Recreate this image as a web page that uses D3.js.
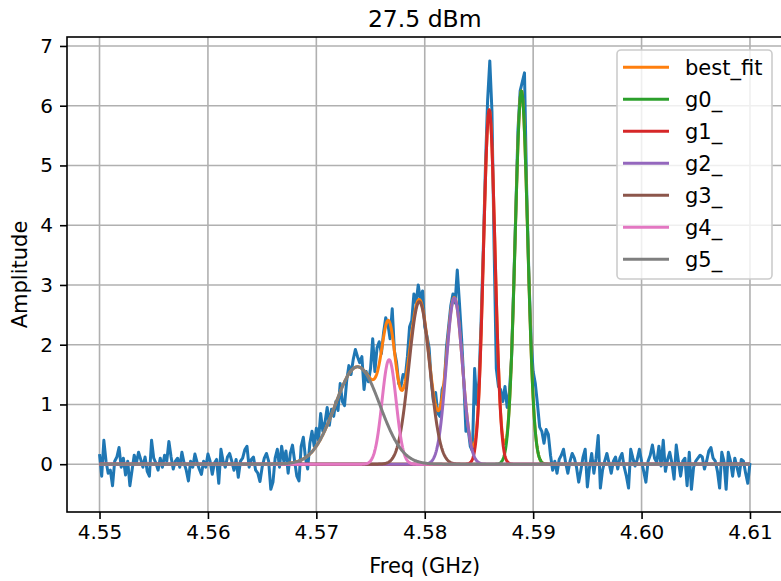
<!DOCTYPE html>
<html>
<head>
<meta charset="utf-8">
<script src="https://cdn.jsdelivr.net/npm/d3@7"></script>
<style>
  body { margin: 0; background: #fff; }
  svg { display: block; }
  text { font-family: "DejaVu Sans", sans-serif; fill: #000; }
</style>
</head>
<body>
<svg id="chart" width="781" height="581"></svg>
<script>
// ---- data ----
const title = "27.5 dBm";
const xLabel = "Freq (GHz)";
const yLabel = "Amplitude";
const xTicks = [4.55, 4.56, 4.57, 4.58, 4.59, 4.60, 4.61];
const yTicks = [0, 1, 2, 3, 4, 5, 6, 7];

// measured spectrum, sampled every 0.0002 GHz from 4.55 GHz
const freqStart = 4.55;
const freqStep = 0.0002;
const amplitude = [
  0.17, -0.20, 0.40, 0.05, -0.15, -0.10, -0.36, 0.05, 0.12, 0.28,
  -0.05, 0.10, -0.18, 0.05, -0.36, -0.10, 0.15, 0.02, 0.20, 0.08,
  -0.05, 0.12, -0.12, -0.20, 0.40, 0.10, 0.02, -0.10, 0.10, -0.05,
  0.15, 0.05, 0.38, 0.12, -0.08, 0.05, 0.10, -0.05, 0.20, 0.02,
  -0.10, -0.28, 0.05, -0.05, 0.17, 0.03, -0.08, -0.17, 0.05, -0.05,
  0.17, 0.05, -0.17, 0.02, 0.08, -0.32, 0.25, 0.05, -0.05, 0.12,
  0.18, 0.05, -0.10, 0.08, -0.22, 0.05, 0.10, 0.24, 0.30, -0.05,
  0.08, 0.12, -0.10, -0.15, -0.29, -0.05, 0.10, 0.18, 0.05, -0.42,
  -0.30, 0.10, 0.25, -0.05, 0.30, 0.05, 0.22, -0.15, 0.18, 0.32,
  0.05, -0.20, -0.28, 0.30, 0.45, 0.10, -0.08, 0.35, 0.55, 0.30,
  0.60, 0.40, 0.85, 0.55, 0.70, 0.95, 0.65, 0.92, 0.80, 1.05,
  0.90, 1.35, 1.05, 0.98, 1.40, 1.65, 1.50, 1.75, 1.92, 1.80,
  1.70, 1.80, 1.25, 1.55, 1.38, 1.60, 2.10, 1.55, 1.95, 2.05,
  1.85, 2.20, 2.45, 2.35, 2.10, 2.60, 1.90, 1.70, 1.35, 1.30,
  1.50, 1.45, 1.80, 2.30, 2.40, 2.85, 2.70, 3.00, 2.75, 2.90,
  2.30, 2.15, 1.95, 1.40, 1.05, 1.20, 0.85, 0.80, 1.25, 1.35,
  1.95, 2.30, 2.65, 2.85, 2.70, 3.25, 2.70, 2.10, 1.40, 0.55,
  0.60, 0.30, 0.22, 1.60, 1.00, 1.40, 2.40, 3.60, 5.00, 6.10,
  6.75, 5.90, 3.60, 1.60, 1.30, 1.25, 1.05, 1.30, 0.95, 1.20,
  1.75, 2.95, 4.25, 5.60, 6.25, 6.40, 6.55, 4.60, 3.20, 2.10,
  1.55, 1.35, 1.00, 0.62, 0.55, 0.35, 0.58, 0.50, 0.15, -0.10,
  0.05, -0.15, 0.08, 0.15, 0.25, 0.02, -0.15, 0.05, 0.18, 0.10,
  -0.05, -0.30, -0.10, 0.12, 0.25, -0.38, -0.05, 0.18, -0.15, 0.10,
  0.48, -0.40, -0.10, 0.05, 0.18, 0.02, -0.15, 0.05, 0.12, -0.08,
  0.10, 0.18, -0.05, -0.20, -0.40, 0.25, 0.10, -0.03, 0.08, 0.25,
  0.05, -0.12, -0.30, 0.05, 0.15, 0.32, 0.10, 0.03, 0.30, -0.03,
  0.40, -0.12, 0.08, 0.20, 0.02, -0.25, 0.32, 0.05, -0.20, 0.05,
  0.10, -0.36, 0.20, -0.42, -0.05, 0.05, 0.10, 0.15, 0.12, -0.08,
  0.05, 0.22, 0.28, 0.10, 0.05, -0.12, -0.40, 0.20, 0.05, -0.42,
  0.20, 0.05, -0.20, 0.10, -0.05, -0.20, 0.08, 0.05, -0.15, -0.32,
  0.02
];

// fitted Gaussian components
const peakNames   = ["g0_", "g1_", "g2_", "g3_", "g4_", "g5_"];
const peakCenters = [4.58892, 4.58595, 4.58273, 4.57950, 4.57671, 4.57380];
const peakHeights = [6.25, 5.93, 2.78, 2.72, 1.75, 1.63];
const peakSigmas  = [0.00058, 0.00053, 0.00074, 0.00096, 0.00065, 0.00207];
const peakColors  = ["#2ca02c", "#d62728", "#9467bd", "#8c564b", "#e377c2", "#7f7f7f"];
const dataColor = "#1f77b4";
const fitColor = "#ff7f0e";
const fitName = "best_fit";

// ---- layout ----
const svg = d3.select("#chart");
const plot = { left: 67, right: 782.5, top: 37, bottom: 512 };
const tickFont = "20px";
const labelFont = "21px";
const titleFont = "23.5px";
const legendFont = "21px";
const lineWidth = 3;
const thinWidth = 1.6;

const x = d3.scaleLinear().domain([4.547, 4.613]).range([plot.left, plot.right]);
const y = d3.scaleLinear().domain([-0.8, 7.15]).range([plot.bottom, plot.top]);

svg.append("rect").attr("width", 781).attr("height", 581).attr("fill", "#fff");

svg.append("defs").append("clipPath").attr("id", "clip")
  .append("rect")
  .attr("x", plot.left).attr("y", plot.top)
  .attr("width", plot.right - plot.left).attr("height", plot.bottom - plot.top);

// grid
const grid = svg.append("g").attr("stroke", "#b0b0b0").attr("stroke-width", thinWidth);
grid.selectAll("line.vx").data(xTicks).join("line")
  .attr("x1", d => x(d)).attr("x2", d => x(d))
  .attr("y1", plot.top).attr("y2", plot.bottom);
grid.selectAll("line.hy").data(yTicks).join("line")
  .attr("x1", plot.left).attr("x2", plot.right)
  .attr("y1", d => y(d)).attr("y2", d => y(d));

// curves
const freq = amplitude.map((_, i) => freqStart + i * freqStep);
const measured = freq.map((f, i) => [f, amplitude[i]]);

const gauss = (f, k) =>
  peakHeights[k] * Math.exp(-((f - peakCenters[k]) ** 2) / (2 * peakSigmas[k] ** 2));

const fineFreq = d3.range(0, 1201).map(i => 4.55 + i * 0.00005);
const componentCurves = peakNames.map((_, k) => fineFreq.map(f => [f, gauss(f, k)]));
const fitCurve = fineFreq.map(f => [f, d3.sum(peakNames, (_, k) => gauss(f, k))]);

const line = d3.line().x(d => x(d[0])).y(d => y(d[1]));
const curves = svg.append("g").attr("clip-path", "url(#clip)")
  .attr("fill", "none").attr("stroke-width", lineWidth)
  .attr("stroke-linejoin", "round").attr("stroke-linecap", "butt");

curves.append("path").datum(measured).attr("d", line).attr("stroke", dataColor);
curves.append("path").datum(fitCurve).attr("d", line).attr("stroke", fitColor);
componentCurves.forEach((c, k) => {
  curves.append("path").datum(c).attr("d", line).attr("stroke", peakColors[k]);
});

// axes
const xAxis = svg.append("g").attr("transform", `translate(0,${plot.bottom})`)
  .call(d3.axisBottom(x).tickValues(xTicks).tickFormat(d3.format(".2f")).tickSize(7).tickPadding(6));
const yAxis = svg.append("g").attr("transform", `translate(${plot.left},0)`)
  .call(d3.axisLeft(y).tickValues(yTicks).tickFormat(d3.format("d")).tickSize(7).tickPadding(7));

[xAxis, yAxis].forEach(a => {
  a.select(".domain").remove();
  a.selectAll(".tick line").attr("stroke", "#000").attr("stroke-width", thinWidth);
  a.selectAll(".tick text").attr("font-size", tickFont).attr("font-family", "DejaVu Sans").attr("fill", "#000");
});

// spines
svg.append("rect")
  .attr("x", plot.left).attr("y", plot.top)
  .attr("width", plot.right - plot.left).attr("height", plot.bottom - plot.top)
  .attr("fill", "none").attr("stroke", "#000").attr("stroke-width", thinWidth);

// labels
svg.append("text").attr("x", (plot.left + plot.right) / 2).attr("y", 26.5)
  .attr("text-anchor", "middle").attr("font-size", titleFont).text(title);
svg.append("text").attr("x", (plot.left + plot.right) / 2).attr("y", 573)
  .attr("text-anchor", "middle").attr("font-size", labelFont).text(xLabel);
svg.append("text").attr("transform", `translate(27,${(plot.top + plot.bottom) / 2}) rotate(-90)`)
  .attr("text-anchor", "middle").attr("font-size", labelFont).text(yLabel);

// legend
const legendItems = [{ name: fitName, color: fitColor }]
  .concat(peakNames.map((n, k) => ({ name: n, color: peakColors[k] })));
const legend = svg.append("g");
legend.append("rect")
  .attr("x", 617).attr("y", 50).attr("width", 155).attr("height", 229)
  .attr("rx", 4).attr("fill", "#fff").attr("fill-opacity", 0.8)
  .attr("stroke", "#cccccc").attr("stroke-width", thinWidth);
const rows = legend.selectAll("g.row").data(legendItems).join("g")
  .attr("transform", (d, i) => `translate(0,${67.3 + i * 32})`);
rows.append("line").attr("x1", 623).attr("x2", 669).attr("y1", 0).attr("y2", 0)
  .attr("stroke", d => d.color).attr("stroke-width", lineWidth);
rows.append("text").attr("x", 685).attr("y", 7.5).attr("font-size", legendFont).text(d => d.name);
</script>
</body>
</html>
